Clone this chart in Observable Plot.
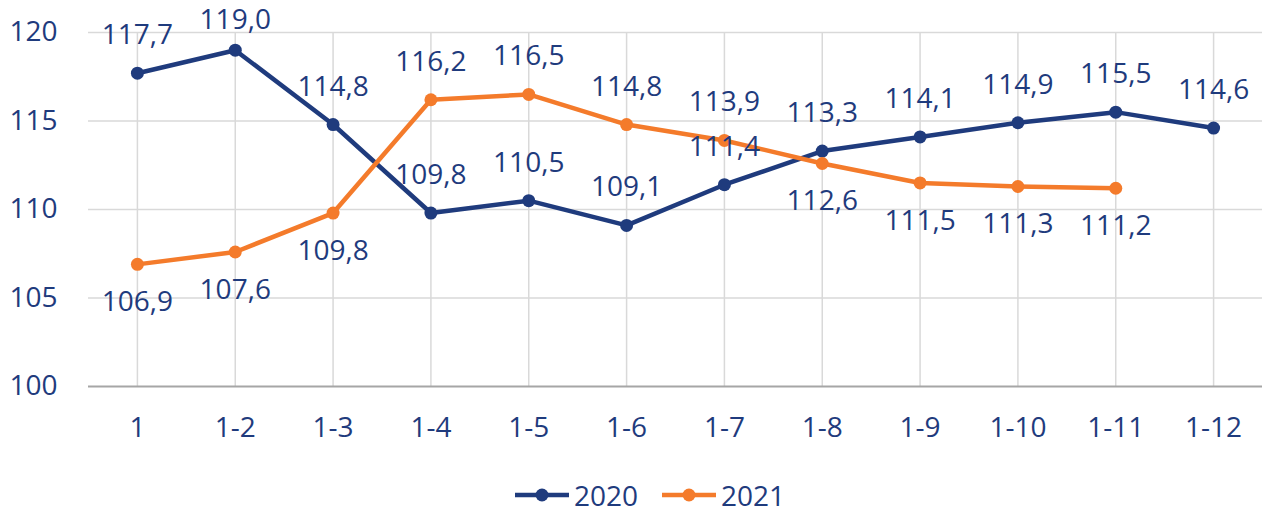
<!DOCTYPE html>
<html>
<head>
<meta charset="utf-8">
<script src="https://cdn.jsdelivr.net/npm/d3@7"></script>
<script src="https://cdn.jsdelivr.net/npm/@observablehq/plot@0.6"></script>
<style>
  html, body { margin: 0; padding: 0; background: #fff; }
  body { width: 1264px; height: 511px; overflow: hidden; font-family: "Open Sans", sans-serif; }
  #legend { display: flex; justify-content: center; align-items: center; gap: 24px; height: 51px; padding-top: 18px; box-sizing: border-box; color: #1F3B7D; font-size: 28px; line-height: 1; padding-left: 36px; }
  #legend .item { display: flex; align-items: center; gap: 5px; }
</style>
</head>
<body>
<div id="chart"></div>
<div id="legend"></div>
<script>
const categories = ["1", "1-2", "1-3", "1-4", "1-5", "1-6", "1-7", "1-8", "1-9", "1-10", "1-11", "1-12"];
const values2020 = [117.7, 119.0, 114.8, 109.8, 110.5, 109.1, 111.4, 113.3, 114.1, 114.9, 115.5, 114.6];
const values2021 = [106.9, 107.6, 109.8, 116.2, 116.5, 114.8, 113.9, 112.6, 111.5, 111.3, 111.2];
const seriesNames = ["2020", "2021"];
const colors = ["#1F3B7D", "#F47B2B"];
const yTicks = [100, 105, 110, 115, 120];
const textColor = "#1F3B7D";

const fmt = v => v.toFixed(1).replace(".", ",");

const rows = [];
values2020.forEach((v, i) => rows.push({series: "2020", cat: categories[i], value: v, idx: i}));
values2021.forEach((v, i) => rows.push({series: "2021", cat: categories[i], value: v, idx: i,
  below: v < values2020[i]}));

const above = rows.filter(d => d.series === "2020" || !d.below);
const below = rows.filter(d => d.series === "2021" && d.below);
const topLimit = 118.5;

const chart = Plot.plot({
  width: 1264,
  height: 460,
  marginLeft: 88,
  marginRight: 2,
  marginTop: 32,
  marginBottom: 74,
  style: {fontFamily: "Open Sans, sans-serif", fontSize: "28px", color: textColor, background: "#fff"},
  x: {type: "point", domain: categories, padding: 0.5, round: false, label: null},
  y: {domain: [100, 120], label: null},
  color: {domain: seriesNames, range: colors},
  marks: [
    Plot.ruleX(categories, {x: d => d, y1: 100, y2: 120, stroke: "#d9d9d9", strokeWidth: 1.5}),
    Plot.ruleY(yTicks.filter(t => t > 100), {stroke: "#d9d9d9", strokeWidth: 1.5}),
    Plot.ruleY([100], {stroke: "#a6a6a6", strokeWidth: 2}),
    Plot.axisY({ticks: yTicks, tickSize: 0, tickPadding: 31, tickFormat: d => String(d), fill: textColor, fontSize: 28}),
    Plot.axisX({tickSize: 0, tickPadding: 31, fill: textColor, fontSize: 28}),
    Plot.line(rows, {x: "cat", y: "value", z: "series", stroke: "series", strokeWidth: 4.5, curve: "linear"}),
    Plot.dot(rows, {x: "cat", y: "value", fill: "series", r: 6.5, stroke: "none"}),
    Plot.text(above.filter(d => d.value <= topLimit), {x: "cat", y: "value", text: d => fmt(d.value), dy: -38, fill: textColor, fontSize: 28}),
    Plot.text(above.filter(d => d.value > topLimit), {x: "cat", y: "value", text: d => fmt(d.value), dy: -30, fill: textColor, fontSize: 28}),
    Plot.text(below, {x: "cat", y: "value", text: d => fmt(d.value), dy: 38, fill: textColor, fontSize: 28})
  ]
});
document.getElementById("chart").appendChild(chart);

const legend = document.getElementById("legend");
seriesNames.forEach((name, i) => {
  const item = document.createElement("div");
  item.className = "item";
  item.innerHTML = `<svg width="54" height="20"><line x1="0" y1="10" x2="54" y2="10" stroke="${colors[i]}" stroke-width="4.5"/><circle cx="27" cy="10" r="6.5" fill="${colors[i]}"/></svg><span>${name}</span>`;
  legend.appendChild(item);
});
</script>
</body>
</html>
